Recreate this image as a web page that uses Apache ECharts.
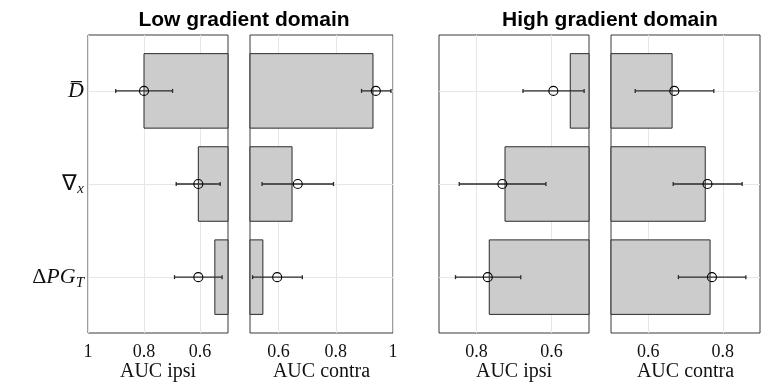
<!DOCTYPE html>
<html><head><meta charset="utf-8">
<script src="https://cdn.jsdelivr.net/npm/echarts@6/dist/echarts.min.js"></script>
<style>html,body{margin:0;padding:0;background:#fff}#c{width:769px;height:385px}</style>
</head><body><div id="c"></div>
<script>
// ---- data ----
const categoryNames = ['D\u0305', '∇_x', 'ΔPG_T'];
const categoryPos = [1, 2, 3];
const panelTitles = ['Low gradient domain', 'High gradient domain'];
const axisNames = ['AUC ipsi', 'AUC contra', 'AUC ipsi', 'AUC contra'];

const lowIpsiBar    = [0.800, 0.606, 0.547];
const lowIpsiMean   = [0.800, 0.606, 0.606];
const lowIpsiLo     = [0.698, 0.528, 0.521];
const lowIpsiHi     = [0.901, 0.685, 0.691];

const lowContraBar  = [0.930, 0.647, 0.545];
const lowContraMean = [0.940, 0.667, 0.595];
const lowContraLo   = [0.890, 0.542, 0.509];
const lowContraHi   = [0.993, 0.792, 0.683];

const highIpsiBar   = [0.550, 0.724, 0.766];
const highIpsiMean  = [0.595, 0.731, 0.770];
const highIpsiLo    = [0.513, 0.615, 0.682];
const highIpsiHi    = [0.676, 0.846, 0.856];

const highContraBar  = [0.664, 0.753, 0.766];
const highContraMean = [0.670, 0.759, 0.771];
const highContraLo   = [0.565, 0.667, 0.681];
const highContraHi   = [0.776, 0.852, 0.862];

const lowIpsiTicks    = [1, 0.8, 0.6];
const lowContraTicks  = [0.6, 0.8, 1];
const highIpsiTicks   = [0.8, 0.6];
const highContraTicks = [0.6, 0.8];

const lowRange  = [0.5, 1.0];
const highRange = [0.5, 0.9];
const barBase = 0.5;

// ---- layout / style ----
const grids = [
  {left: 88,  top: 35, width: 140, height: 298},
  {left: 250, top: 35, width: 143, height: 298},
  {left: 439, top: 35, width: 150, height: 298},
  {left: 611, top: 35, width: 149, height: 298}
];
const panels = [
  {bar: lowIpsiBar, mean: lowIpsiMean, lo: lowIpsiLo, hi: lowIpsiHi, ticks: lowIpsiTicks, range: lowRange, inverse: true},
  {bar: lowContraBar, mean: lowContraMean, lo: lowContraLo, hi: lowContraHi, ticks: lowContraTicks, range: lowRange, inverse: false},
  {bar: highIpsiBar, mean: highIpsiMean, lo: highIpsiLo, hi: highIpsiHi, ticks: highIpsiTicks, range: highRange, inverse: true},
  {bar: highContraBar, mean: highContraMean, lo: highContraLo, hi: highContraHi, ticks: highContraTicks, range: highRange, inverse: false}
];
const serif = 'Liberation Serif';
const gridColor = '#e6e6e6';

function catLabel(name) {
  const parts = name.split('_');
  const main = parts[0];
  let s = '';
  for (const ch of main) {
    if (/[A-Za-z]/.test(ch)) s += '{i|' + ch + '}';
    else if (ch === '\u0305') s = s.replace(/\}$/, ch + '}');
    else s += '{n|' + ch + '}';
  }
  if (parts[1]) s += '{s|' + parts[1] + '}';
  return s;
}

const xAxes = panels.map((p, i) => ({
  gridIndex: i, type: 'value', min: p.range[0], max: p.range[1], inverse: p.inverse,
  axisLine: {show: false},
  axisTick: {show: false, customValues: p.ticks},
  axisLabel: {customValues: p.ticks, showMinLabel: true, showMaxLabel: true,
    fontFamily: serif, fontSize: 18, color: '#111', margin: 10,
    formatter: v => String(v)},
  splitLine: {show: true, lineStyle: {color: gridColor, width: 1}},
  name: axisNames[i], nameLocation: 'middle', nameGap: 29, nameMoveOverlap: false,
  nameTextStyle: {fontFamily: serif, fontSize: 20, color: '#111'}
}));
const yAxes = panels.map((p, i) => ({
  gridIndex: i, type: 'value', min: 0.4, max: 3.6, inverse: true,
  axisLine: {show: false},
  axisTick: {show: false, customValues: categoryPos},
  axisLabel: {show: i === 0, customValues: categoryPos, margin: 4,
    formatter: v => catLabel(categoryNames[categoryPos.indexOf(v)]),
    rich: {
      n: {fontFamily: serif, fontSize: 22, color: '#111', lineHeight: 26},
      i: {fontFamily: serif, fontStyle: 'italic', fontSize: 22, color: '#111', lineHeight: 26},
      s: {fontFamily: serif, fontStyle: 'italic', fontSize: 15, color: '#111', lineHeight: 13, verticalAlign: 'bottom'}
    }},
  splitLine: {show: true, lineStyle: {color: gridColor, width: 1}}
}));

const series = [];
panels.forEach((p, i) => {
  series.push({
    type: 'custom', xAxisIndex: i, yAxisIndex: i, silent: true, z: 2,
    data: p.bar.map((v, k) => [v, categoryPos[k]]),
    encode: {x: 0, y: 1},
    renderItem: (params, api) => {
      const v = api.value(0), y = api.value(1);
      const a = api.coord([barBase, y - 0.4]);
      const b = api.coord([v, y + 0.4]);
      return {type: 'rect',
        shape: {x: Math.min(a[0], b[0]), y: Math.min(a[1], b[1]),
                width: Math.abs(b[0] - a[0]), height: Math.abs(b[1] - a[1])},
        style: {fill: '#cccccc', stroke: '#2a2a2a', lineWidth: 1}};
    }
  });
  series.push({
    type: 'custom', xAxisIndex: i, yAxisIndex: i, silent: true, z: 3,
    data: p.lo.map((v, k) => [v, p.hi[k], categoryPos[k]]),
    encode: {x: [0, 1], y: 2},
    renderItem: (params, api) => {
      const a = api.coord([api.value(0), api.value(2)]);
      const b = api.coord([api.value(1), api.value(2)]);
      const st = {stroke: '#2a2a2a', lineWidth: 1.3};
      return {type: 'group', children: [
        {type: 'line', shape: {x1: a[0], y1: a[1], x2: b[0], y2: b[1]}, style: st},
        {type: 'line', shape: {x1: a[0], y1: a[1] - 2, x2: a[0], y2: a[1] + 2}, style: st},
        {type: 'line', shape: {x1: b[0], y1: b[1] - 2, x2: b[0], y2: b[1] + 2}, style: st}
      ]};
    }
  });
  series.push({
    type: 'scatter', xAxisIndex: i, yAxisIndex: i, silent: true, z: 4,
    symbol: 'circle', symbolSize: 9,
    itemStyle: {color: 'rgba(0,0,0,0)', borderColor: '#000', borderWidth: 1.1, opacity: 1},
    data: p.mean.map((v, k) => [v, categoryPos[k]])
  });
});

const chart = echarts.init(document.getElementById('c'), null, {renderer: 'canvas'});
chart.setOption({
  animation: false,
  backgroundColor: '#fff',
  title: [
    {text: panelTitles[0], left: 239, top: 5, textAlign: 'center',
     textStyle: {fontFamily: 'Liberation Sans', fontWeight: 'bold', fontSize: 21, color: '#000'}},
    {text: panelTitles[1], left: 605, top: 5, textAlign: 'center',
     textStyle: {fontFamily: 'Liberation Sans', fontWeight: 'bold', fontSize: 21, color: '#000'}}
  ],
  grid: grids.map(g => Object.assign({show: true, borderColor: '#3a3a3a', borderWidth: 1, backgroundColor: '#fff', containLabel: false, outerBoundsMode: 'none'}, g)),
  xAxis: xAxes,
  yAxis: yAxes,
  series: series
});
</script>
</body></html>
